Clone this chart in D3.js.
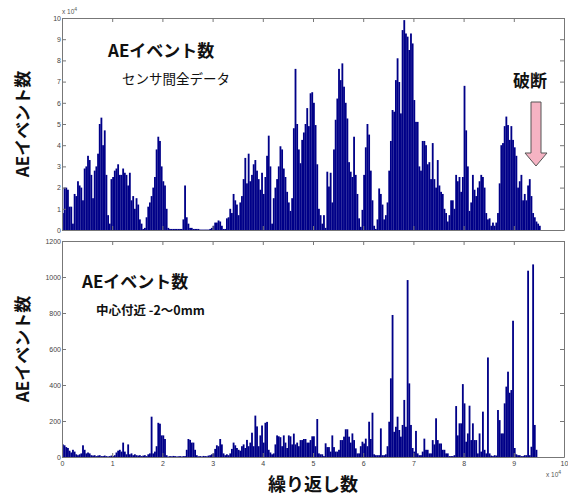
<!DOCTYPE html>
<html><head><meta charset="utf-8">
<script src="https://cdn.jsdelivr.net/npm/d3@7"></script>
<style>
html,body{margin:0;padding:0;background:#fff;}
svg{display:block;}
</style></head>
<body>
<svg id="chart" width="568" height="497"></svg>
<script>
// ---- data ----
const binWidth = 1000/3; // cycles per bin
const xTicks = [0,1,2,3,4,5,6,7,8,9,10];          // ×10^4 cycles
const topYTicks = [0,1,2,3,4,5,6,7,8,9,10];       // ×10^4 events
const bottomYTicks = [0,200,400,600,800,1000,1200];
// AE events, all sensors (×10^4), one value per bin
const topValues = [
0.8,2.0,2.0,1.9,1.1,1.1,0.3,1.7,1.6,2.3,2.1,2.0,1.4,2.9,3.0,3.5,3.3,2.6,1.5,2.8,
3.0,3.6,5.0,5.3,4.0,4.7,2.6,0.7,0.3,2.4,2.5,2.8,2.9,3.1,2.6,2.6,2.9,2.7,2.6,2.1,
2.7,1.4,1.6,1.0,1.5,1.2,0.5,0.3,0.05,0.1,0.6,1.1,1.3,1.6,2.0,2.5,3.8,4.4,4.2,3.0,
2.3,2.1,1.0,0.1,0.05,0.05,0.05,0.05,0.05,0.05,0.05,0.05,0.5,2.1,0.6,0.3,0.1,0.1,0.05,0.05,
0.05,0.05,0.02,0.02,0.02,0.02,0.02,0.02,0.05,0.1,0.2,0.35,0.35,0.45,0.4,0.2,0.05,0.05,0.55,0.6,
1.0,0.8,1.7,1.4,1.2,0.7,1.3,1.6,2.4,3.4,2.2,3.6,2.3,2.6,3.1,3.3,2.8,2.4,1.9,2.7,
1.7,2.5,3.5,4.45,3.0,0.3,1.5,2.0,2.4,3.0,3.95,3.8,2.9,2.5,1.8,1.3,0.9,1.5,4.8,7.6,
5.0,3.8,3.15,4.25,4.6,5.0,5.75,4.9,6.45,6.5,6.0,4.95,3.1,1.0,0.7,0.3,0.7,0.1,2.75,2.05,
2.7,1.3,3.8,5.2,6.2,7.6,7.07,7.86,6.76,6.0,5.26,3.2,2.75,2.5,4.4,2.6,1.7,0.55,0.15,0.95,
2.6,3.9,5.0,4.5,2.8,1.4,0.2,0.05,0.5,1.96,1.7,1.2,0.5,0.7,1.3,2.8,4.2,5.66,5.58,7.07,
8.1,6.98,5.5,9.43,9.9,9.27,9.12,8.49,9.27,8.8,6.13,5.1,5.1,3.0,2.8,4.2,4.2,4.0,3.1,3.2,
2.4,4.1,2.4,2.0,3.3,2.1,1.8,1.7,1.0,0.8,0.4,0.7,1.4,1.4,1.0,2.6,2.3,2.5,1.8,2.5,
6.8,4.7,3.0,0.9,1.3,2.6,1.9,1.6,2.0,2.3,2.6,2.5,2.0,0.8,0.5,0.55,0.2,0.35,0.2,0.35,
0.8,2.2,4.0,4.1,4.9,5.35,4.95,4.25,4.9,4.25,3.9,3.5,2.0,2.3,2.6,1.4,1.7,1.4,2.1,2.4,
1.6,0.8,0.6,0.4,0.3,0.2
];
// AE events, centre region -2~0 mm
const bottomValues = [
70,65,55,50,35,25,40,30,15,10,15,20,65,40,20,25,20,10,8,10,
5,8,10,5,5,8,5,3,5,8,5,10,25,35,40,30,80,30,15,70,
15,20,10,15,10,8,10,5,8,10,5,15,20,224,20,30,60,190,185,120,
120,100,10,3,5,4,6,5,3,4,5,3,5,5,40,100,95,80,80,40,
10,4,5,3,6,5,4,8,10,15,20,45,65,60,100,70,20,10,15,10,
20,45,80,65,50,40,35,60,70,50,95,60,80,135,60,230,170,60,120,175,
80,190,195,40,25,15,20,70,120,115,110,60,120,80,50,120,115,70,130,70,
80,60,94,94,100,100,80,80,94,115,115,60,211,20,15,15,5,76,55,55,
30,120,55,30,30,40,94,94,113,154,154,113,80,131,94,48,20,20,60,85,
75,102,60,196,100,246,15,10,10,10,159,10,10,15,60,196,437,789,140,168,
224,150,113,178,317,168,983,409,178,50,30,145,20,10,10,30,102,40,40,20,
20,94,70,215,94,75,75,40,40,20,20,5,5,5,10,283,120,187,187,405,
298,85,131,285,94,187,94,94,20,131,30,252,40,20,553,20,8,5,10,8,
261,205,131,131,298,391,474,357,372,757,50,15,10,10,5,5,10,10,1035,10,
57,1070,178,40
];
const yLabel = "AEイベント数";
const xLabel = "繰り返し数";
const topTitle = "AEイベント数", topSub = "センサ間全データ";
const botTitle = "AEイベント数", botSub = "中心付近 -2～0mm";
const breakLabel = "破断";

// ---- layout ----
const svg = d3.select("#chart");
const L = 62, R = 564;
const P1 = {top: 18, bottom: 230};
const P2 = {top: 241, bottom: 457};
const barColor = "#000088";
const frameColor = "#777";
const tickFont = "Liberation Sans, Arial, sans-serif";
const jpFont = "'Noto Sans CJK JP', sans-serif";

const x = d3.scaleLinear().domain([0, 100000]).range([L, R]);
const yTop = d3.scaleLinear().domain([0, 10]).range([P1.bottom, P1.top]);
const yBot = d3.scaleLinear().domain([0, 1200]).range([P2.bottom, P2.top]);

function drawPanel(values, y, P, yTicks, showX) {
  const g = svg.append("g");
  g.selectAll("rect.bar").data(values).join("rect")
    .attr("class", "bar")
    .attr("x", (d, i) => x(i * binWidth))
    .attr("width", (d, i) => x((i + 1) * binWidth) - x(i * binWidth) + 0.15)
    .attr("y", d => y(d))
    .attr("height", d => y(0) - y(d))
    .attr("fill", barColor);

  // axes (inward ticks, matlab style box)
  const axB = d3.axisBottom(x).tickValues(xTicks.map(t => t * 10000)).tickSizeInner(-4).tickSizeOuter(0)
    .tickFormat(showX ? (d => String(d / 10000)) : "");
  const axT = d3.axisTop(x).tickValues(xTicks.map(t => t * 10000)).tickSizeInner(-4).tickSizeOuter(0).tickFormat("");
  const axL = d3.axisLeft(y).tickValues(yTicks).tickSizeInner(-4).tickSizeOuter(0).tickPadding(4)
    .tickFormat(d3.format("d"));
  const axR = d3.axisRight(y).tickValues(yTicks).tickSizeInner(-4).tickSizeOuter(0).tickFormat("");
  const gb = g.append("g").attr("transform", `translate(0,${P.bottom})`).call(axB);
  const gt = g.append("g").attr("transform", `translate(0,${P.top})`).call(axT);
  const gl = g.append("g").attr("transform", `translate(${L},0)`).call(axL);
  const gr = g.append("g").attr("transform", `translate(${R},0)`).call(axR);
  [gb, gt, gl, gr].forEach(a => {
    a.select(".domain").attr("stroke", frameColor);
    a.selectAll(".tick line").attr("stroke", frameColor);
    a.selectAll("text").attr("fill", "#444").attr("font-size", 7).attr("font-family", tickFont);
  });
  gb.selectAll("text").attr("dy", "0.9em");
  gl.selectAll("text").attr("dx", "3px");
}

drawPanel(topValues, yTop, P1, topYTicks, false);
drawPanel(bottomValues, yBot, P2, bottomYTicks, true);

// exponent labels
function expLabel(xp, yp) {
  const t = svg.append("text").attr("x", xp).attr("y", yp)
    .attr("font-family", tickFont).attr("font-size", 6.5).attr("fill", "#555");
  t.append("tspan").text("x 10");
  t.append("tspan").attr("dy", -3).attr("font-size", 5).text("4");
}
expLabel(62, 14);
expLabel(546, 477);

// axis labels
function yLab(cy) {
  svg.append("text").attr("transform", `translate(29,${cy}) rotate(-90)`)
    .attr("text-anchor", "middle").attr("font-family", jpFont).attr("font-weight", "bold")
    .attr("font-size", 17).attr("fill", "#111").text(yLabel);
}
yLab(124);
yLab(349);
svg.append("text").attr("x", 313).attr("y", 491).attr("text-anchor", "middle")
  .attr("font-family", jpFont).attr("font-weight", "bold").attr("font-size", 18)
  .attr("fill", "#111").text(xLabel);

// in-plot annotations
function ann(xp, yp, txt, size, weight) {
  svg.append("text").attr("x", xp).attr("y", yp).attr("font-family", jpFont)
    .attr("font-weight", weight).attr("font-size", size).attr("fill", "#111").text(txt);
}
ann(108, 57, topTitle, 17, "bold");
ann(122, 84, topSub, 13.5, "normal");
ann(82, 288, botTitle, 17, "bold");
ann(96, 315, botSub, 12.5, "bold");
ann(513, 87, breakLabel, 17, "bold");

// break arrow
const arrow = d3.path();
arrow.moveTo(531, 102); arrow.lineTo(541, 102); arrow.lineTo(541, 153);
arrow.lineTo(547, 153); arrow.lineTo(536, 166); arrow.lineTo(525, 153);
arrow.lineTo(531, 153); arrow.closePath();
svg.append("path").attr("d", arrow.toString()).attr("fill", "#f5b3c3")
  .attr("stroke", "#555").attr("stroke-width", 1);
</script>
</body></html>
